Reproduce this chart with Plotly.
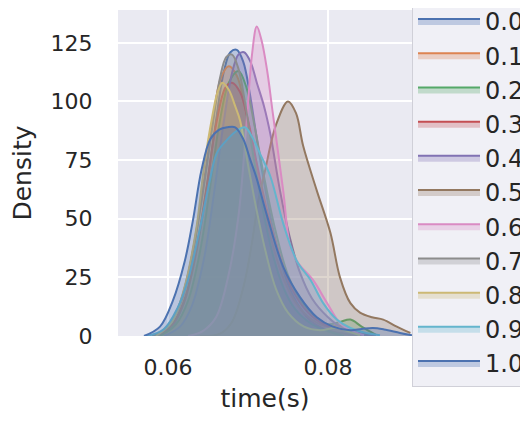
import plotly.graph_objects as go

# ---- data (KDE curves, estimated) ----
labels = ["0.0", "0.1", "0.2", "0.3", "0.4", "0.5", "0.6", "0.7", "0.8", "0.9", "1.0"]

x_00 = [0.0585, 0.0605, 0.0620, 0.0635, 0.0648, 0.0660, 0.0670, 0.0678, 0.0686, 0.0694, 0.0702, 0.0712, 0.0722, 0.0735, 0.0750, 0.0765, 0.0780, 0.0800, 0.0820, 0.0840]
y_00 = [0.0, 4, 14, 35, 62, 92, 113, 121, 122, 117, 104, 82, 62, 40, 22, 12, 6, 2.5, 1, 0]

x_01 = [0.0582, 0.0602, 0.0618, 0.0632, 0.0645, 0.0656, 0.0666, 0.0676, 0.0686, 0.0696, 0.0707, 0.0718, 0.0730, 0.0745, 0.0760, 0.0780, 0.0800, 0.0815, 0.0830, 0.0850]
y_01 = [0.0, 5, 16, 38, 66, 92, 110, 115, 111, 98, 78, 58, 40, 24, 14, 7, 4, 4.5, 2, 0.3]

x_02 = [0.0590, 0.0610, 0.0625, 0.0640, 0.0652, 0.0664, 0.0676, 0.0688, 0.0698, 0.0708, 0.0720, 0.0735, 0.0750, 0.0768, 0.0785, 0.0800, 0.0815, 0.0828, 0.0842, 0.0860]
y_02 = [0.0, 5, 15, 36, 62, 90, 108, 113, 106, 90, 68, 44, 26, 14, 8, 5, 6, 7, 4, 0.5]

x_03 = [0.0585, 0.0605, 0.0620, 0.0635, 0.0648, 0.0660, 0.0672, 0.0680, 0.0690, 0.0700, 0.0712, 0.0725, 0.0740, 0.0755, 0.0775, 0.0795, 0.0815, 0.0835, 0.0855]
y_03 = [0.0, 5, 15, 36, 63, 90, 106, 108, 104, 92, 72, 52, 34, 20, 10, 5, 3, 1.5, 0.3]

x_04 = [0.0595, 0.0615, 0.0630, 0.0645, 0.0658, 0.0670, 0.0680, 0.0688, 0.0695, 0.0703, 0.0711, 0.0720, 0.0728, 0.0740, 0.0753, 0.0765, 0.0780, 0.0800, 0.0820, 0.0840, 0.0860]
y_04 = [0.0, 4, 13, 33, 62, 92, 112, 120, 121, 117, 108, 98, 86, 62, 41, 27, 16, 8, 3, 1, 0]

x_05 = [0.0640, 0.0665, 0.0680, 0.0695, 0.0705, 0.0713, 0.0721, 0.0735, 0.0750, 0.0760, 0.0769, 0.0786, 0.0803, 0.0815, 0.0828, 0.0840, 0.0855, 0.0869, 0.0886, 0.0903]
y_05 = [0.0, 1, 6, 22, 40, 58, 70, 90, 100, 95, 81, 62, 44, 25, 14, 10, 8, 7, 4, 1.3]

x_06 = [0.0625, 0.0643, 0.0660, 0.0675, 0.0688, 0.0698, 0.0705, 0.0711, 0.0717, 0.0724, 0.0731, 0.0744, 0.0753, 0.0763, 0.0781, 0.0799, 0.0815, 0.0828, 0.0845]
y_06 = [0.0, 2, 8, 25, 51, 90, 120, 132, 126, 113, 95, 62, 38, 31, 24, 14, 5.5, 2.5, 0.3]

x_07 = [0.0580, 0.0600, 0.0615, 0.0630, 0.0643, 0.0655, 0.0665, 0.0673, 0.0680, 0.0688, 0.0697, 0.0707, 0.0718, 0.0730, 0.0745, 0.0760, 0.0780, 0.0800, 0.0820]
y_07 = [0.0, 4, 14, 34, 60, 88, 110, 119, 120, 114, 98, 76, 55, 36, 20, 11, 5, 2, 0]

x_08 = [0.0585, 0.0605, 0.0620, 0.0635, 0.0645, 0.0655, 0.0662, 0.0668, 0.0676, 0.0684, 0.0690, 0.0699, 0.0710, 0.0722, 0.0735, 0.0750, 0.0770, 0.0790, 0.0810, 0.0825, 0.0840]
y_08 = [0.0, 6, 20, 45, 72, 93, 104, 108, 105, 98, 92, 75, 55, 36, 20, 10, 4, 2.5, 3.5, 2, 0.3]

x_09 = [0.0574, 0.0595, 0.0612, 0.0625, 0.0640, 0.0652, 0.0661, 0.0672, 0.0684, 0.0696, 0.0705, 0.0716, 0.0728, 0.0744, 0.0761, 0.0778, 0.0794, 0.0811, 0.0828, 0.0845, 0.0865]
y_09 = [0.0, 3, 12, 24, 46, 66, 78, 83, 87, 89, 85, 77, 68, 48, 32, 24, 14, 7, 3.4, 1.5, 0.3]

x_10 = [0.0570, 0.0590, 0.0606, 0.0621, 0.0631, 0.0642, 0.0653, 0.0664, 0.0674, 0.0684, 0.0694, 0.0703, 0.0711, 0.0724, 0.0744, 0.0765, 0.0786, 0.0806, 0.0828, 0.0842, 0.0856, 0.0870, 0.0890, 0.0905]
y_10 = [0.0, 4, 15, 32, 49, 71, 84, 88, 89, 89, 84, 75, 67, 51, 29.5, 16.6, 8, 4, 2.5, 3, 3.4, 2.8, 1.3, 0.3]

xs = [x_00, x_01, x_02, x_03, x_04, x_05, x_06, x_07, x_08, x_09, x_10]
ys = [y_00, y_01, y_02, y_03, y_04, y_05, y_06, y_07, y_08, y_09, y_10]

x_ticks = [0.06, 0.08]
x_ticktext = ["0.06", "0.08"]
y_ticks = [0, 25, 50, 75, 100, 125]

# seaborn "deep" palette (cycles after 10)
palette = ["#4C72B0", "#DD8452", "#55A868", "#C44E52", "#8172B3",
           "#937860", "#DA8BC3", "#8C8C8C", "#CCB974", "#64B5CD"]


def rgba(hex_color, a):
    h = hex_color.lstrip("#")
    r, g, b = int(h[0:2], 16), int(h[2:4], 16), int(h[4:6], 16)
    return f"rgba({r},{g},{b},{a})"


fig = go.Figure()
for i in range(len(labels)):
    c = palette[i % len(palette)]
    fig.add_trace(go.Scatter(
        x=xs[i], y=ys[i], name=labels[i], mode="lines",
        line=dict(color=c, width=2, shape="spline", smoothing=1.0),
        fill="tozeroy", fillcolor=rgba(c, 0.3),
    ))

font_family = "DejaVu Sans"
text_color = "#262626"

fig.update_layout(
    width=528, height=405,
    margin=dict(l=110, r=124, t=2, b=77, autoexpand=False),
    paper_bgcolor="white",
    plot_bgcolor="#EAEAF2",
    font=dict(family=font_family, size=22, color=text_color),
    showlegend=True,
    legend=dict(
        x=1.0, xanchor="left", y=1.037, yanchor="top",
        traceorder="normal",
        bgcolor="rgba(238,238,245,0.9)",
        bordercolor="#d0d0d8", borderwidth=1,
        itemwidth=62,
        maxheight=420,
        font=dict(family=font_family, size=24, color=text_color),
    ),
    xaxis=dict(
        range=[0.05375, 0.0905],
        tickvals=x_ticks, ticktext=x_ticktext,
        showgrid=True, gridcolor="white", gridwidth=2,
        zeroline=False, showline=False,
        ticks="outside", ticklen=12, tickcolor="rgba(0,0,0,0)",
        tickfont=dict(size=22),
        title=dict(text="time(s)", font=dict(size=25), standoff=17),
    ),
    yaxis=dict(
        range=[0, 139],
        tickvals=y_ticks,
        showgrid=True, gridcolor="white", gridwidth=2,
        zeroline=False, showline=False,
        ticks="outside", ticklen=20, tickcolor="rgba(0,0,0,0)",
        tickfont=dict(size=22),
        title=dict(text="Density", font=dict(size=25), standoff=12),
    ),
)

fig.write_html("out.html")
